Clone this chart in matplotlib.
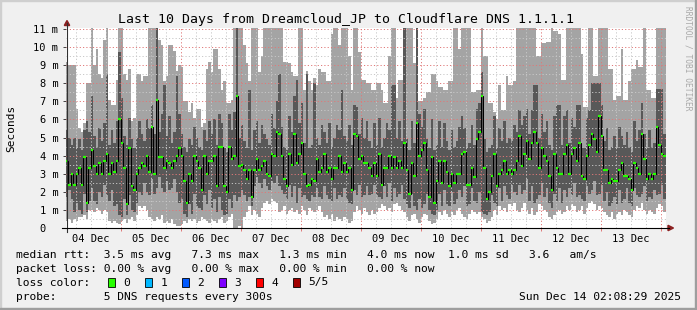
import numpy as np
import matplotlib.pyplot as plt
from matplotlib.lines import Line2D
from matplotlib.patches import Rectangle, Polygon

W, H = 697, 310
MONO = 'DejaVu Sans Mono'
plt.rcParams['font.family'] = [MONO, 'DejaVu Sans']

# one column per hour, hour 0 = 04 Dec 00:00; window is 04 Dec 02:08 .. 14 Dec 02:08
first_hour = 2
t_start, t_end = 2.14, 242.14
day_labels = ['04 Dec', '05 Dec', '06 Dec', '07 Dec', '08 Dec',
              '09 Dec', '10 Dec', '11 Dec', '12 Dec', '13 Dec']

# median rtt per hour (ms)
median = [
    3.7, 2.4, 3.0, 2.4, 3.0, 3.3, 2.4, 3.9, 1.4, 3.3,
    4.3, 3.4, 3.0, 3.6, 3.0, 3.7, 4.1, 3.0, 3.6, 3.1,
    3.7, 6.0, 4.7, 3.3, 1.3, 4.4, 2.3, 2.1, 3.0, 3.3,
    3.6, 3.4, 4.0, 3.1, 5.6, 3.0, 7.1, 3.9, 3.9, 3.3,
    3.7, 3.6, 3.3, 3.7, 4.0, 4.4, 4.0, 2.6, 1.4, 3.0,
    2.6, 4.0, 3.7, 3.3, 2.1, 4.0, 3.0, 3.7, 3.7, 4.0,
    2.3, 4.5, 4.5, 2.3, 2.0, 4.5, 3.8, 4.0, 7.3, 3.4,
    3.5, 3.2, 2.7, 3.2, 1.7, 3.2, 3.8, 3.2, 3.4, 3.7,
    3.0, 2.9, 4.1, 4.0, 5.3, 5.2, 4.0, 2.7, 2.3, 4.1,
    3.5, 5.2, 3.6, 4.1, 4.7, 3.0, 2.3, 2.4, 2.7, 2.6,
    3.8, 3.1, 3.3, 4.1, 3.1, 3.3, 2.7, 3.3, 3.3, 4.0,
    3.1, 3.6, 3.1, 3.3, 2.1, 5.2, 5.1, 3.8, 4.0, 3.6,
    3.6, 3.3, 2.9, 3.6, 2.9, 4.1, 2.4, 3.3, 3.3, 4.0,
    3.3, 3.9, 3.3, 3.7, 3.3, 4.7, 3.2, 1.9, 3.6, 2.9,
    5.8, 4.0, 4.3, 4.7, 3.2, 1.7, 3.9, 1.4, 2.6, 3.7,
    2.5, 3.7, 3.1, 2.3, 3.0, 2.5, 3.0, 3.0, 4.1, 4.2,
    2.4, 2.4, 3.3, 2.8, 4.9, 5.3, 7.3, 3.3, 1.6, 2.0,
    2.9, 4.1, 2.3, 3.0, 3.2, 3.7, 3.0, 3.2, 3.0, 3.2,
    3.7, 5.1, 3.4, 4.1, 4.8, 3.8, 4.7, 5.3, 4.7, 3.3,
    4.4, 4.0, 3.7, 2.9, 2.1, 4.1, 3.3, 3.0, 3.0, 4.1,
    4.6, 3.0, 4.1, 4.4, 3.7, 4.7, 2.9, 2.7, 4.0, 4.6,
    5.2, 4.9, 4.2, 6.2, 5.1, 3.2, 3.2, 2.5, 2.7, 2.6,
    2.6, 3.2, 3.6, 2.9, 2.9, 2.7, 2.1, 3.6, 3.3, 3.0,
    5.2, 3.8, 2.7, 3.0, 2.7, 3.0, 5.6, 4.6, 4.1, 4.0,
]

# fastest ping per hour (bottom of the light smoke)
lo = [
    0.4, 0.5, 0.3, 0.5, 0.4, 0.6, 0.6, 0.7, 0.5, 1.0,
    1.0, 0.9, 1.1, 1.0, 0.8, 1.0, 0.9, 0.4, 0.3, 0.4,
    0.3, 0.2, 0.4, 0.5, 0.3, 0.5, 0.6, 0.4, 0.7, 1.2,
    1.1, 1.2, 1.0, 0.6, 0.5, 0.4, 0.6, 0.5, 0.7, 0.3,
    0.4, 0.3, 0.5, 0.2, 0.1, 0.1, 0.2, 0.4, 0.3, 0.5,
    0.4, 0.5, 0.3, 0.4, 0.6, 0.5, 0.4, 0.3, 0.5, 0.4,
    0.3, 0.5, 0.6, 0.3, 0.4, 0.6, 0.8, 0.0, 0.0, 0.1,
    0.0, 0.6, 0.9, 1.2, 0.7, 1.0, 0.8, 0.6, 1.1, 1.4,
    1.5, 1.3, 1.6, 1.5, 1.4, 0.9, 1.0, 1.2, 0.8, 1.0,
    1.1, 0.9, 1.0, 0.8, 1.2, 1.0, 0.7, 1.1, 1.0, 0.9,
    1.0, 1.2, 0.9, 0.6, 0.7, 0.5, 0.8, 0.4, 0.6, 0.5,
    0.4, 0.6, 0.5, 0.3, 0.4, 0.9, 1.2, 1.0, 0.8, 1.1,
    0.9, 0.7, 1.0, 0.8, 0.9, 1.1, 1.3, 1.2, 1.0, 1.1,
    0.9, 1.3, 1.4, 1.2, 1.0, 0.9, 0.6, 0.4, 0.7, 0.8,
    0.5, 0.3, 0.6, 0.8, 0.7, 0.4, 0.2, 0.3, 0.5, 0.9,
    0.7, 1.0, 0.8, 0.6, 0.9, 0.7, 1.0, 1.1, 0.8, 0.6,
    0.5, 0.8, 1.0, 0.9, 0.8, 0.9, 0.6, 0.5, 0.3, 0.4,
    0.6, 1.0, 0.7, 1.2, 1.0, 1.1, 0.9, 1.3, 1.2, 1.4,
    1.0, 0.9, 1.1, 1.4, 1.0, 0.8, 1.1, 0.7, 0.9, 1.3,
    1.2, 1.0, 0.9, 0.6, 0.5, 0.7, 0.9, 1.0, 0.8, 0.9,
    1.2, 1.0, 1.3, 1.2, 0.9, 1.0, 1.2, 0.8, 1.1, 1.4,
    1.5, 1.3, 1.0, 1.2, 1.1, 0.9, 0.7, 0.6, 0.9, 0.5,
    0.8, 0.9, 0.7, 1.0, 0.9, 0.7, 0.6, 1.0, 1.2, 1.1,
    1.4, 1.0, 0.8, 1.0, 0.9, 0.8, 1.1, 1.3, 1.2, 0.9,
]

# 2nd fastest ping (bottom of the dark smoke)
q1 = [
    1.7, 2.1, 1.6, 0.9, 1.4, 1.0, 0.8, 1.9, 0.9, 1.5,
    2.2, 1.5, 1.3, 2.0, 1.7, 2.4, 1.8, 1.5, 2.1, 1.2,
    1.3, 0.7, 0.6, 1.6, 0.7, 1.8, 1.0, 0.9, 1.4, 2.0,
    1.8, 2.5, 2.0, 1.8, 2.7, 1.9, 2.2, 2.8, 2.2, 2.0,
    2.6, 2.1, 2.2, 2.7, 2.0, 1.4, 1.6, 0.8, 0.6, 1.3,
    0.8, 1.9, 1.2, 1.1, 1.0, 1.8, 1.3, 2.1, 1.1, 1.6,
    0.9, 1.7, 1.0, 0.7, 0.8, 1.6, 1.1, 1.8, 1.5, 1.7,
    2.1, 1.8, 1.5, 1.7, 1.2, 2.3, 2.8, 2.5, 2.2, 2.7,
    2.3, 2.1, 2.6, 2.5, 2.9, 2.3, 2.1, 1.9, 1.6, 2.4,
    1.7, 2.3, 1.4, 2.2, 1.7, 1.8, 1.6, 1.5, 1.8, 1.7,
    2.2, 1.7, 1.6, 2.3, 1.8, 1.6, 1.5, 2.2, 1.6, 1.8,
    1.7, 2.2, 1.6, 1.4, 1.3, 2.1, 1.8, 2.4, 1.7, 1.8,
    2.3, 1.8, 1.9, 2.4, 1.8, 1.7, 1.6, 2.3, 1.7, 2.5,
    1.5, 2.2, 1.7, 1.9, 2.4, 1.6, 1.3, 1.1, 1.9, 1.2,
    1.0, 1.6, 1.1, 1.3, 1.9, 1.0, 0.8, 0.7, 1.0, 1.9,
    1.2, 2.1, 1.3, 1.2, 2.0, 1.3, 1.6, 2.1, 1.7, 2.3,
    1.2, 1.3, 2.2, 1.5, 1.4, 2.0, 0.9, 0.8, 0.7, 0.9,
    1.8, 1.4, 1.2, 2.2, 1.5, 2.3, 1.8, 1.6, 2.4, 2.0,
    1.8, 2.4, 1.9, 2.1, 2.7, 1.5, 2.3, 1.4, 1.6, 1.8,
    2.5, 1.7, 2.2, 1.4, 1.1, 1.9, 1.5, 2.2, 1.4, 2.1,
    1.7, 2.2, 1.8, 2.5, 1.7, 1.8, 1.6, 1.5, 2.3, 1.9,
    2.1, 2.6, 1.8, 1.9, 2.4, 1.5, 2.0, 1.2, 1.4, 1.7,
    1.3, 2.1, 1.4, 1.6, 2.2, 1.4, 1.2, 2.2, 1.8, 1.7,
    1.9, 2.3, 1.5, 1.7, 1.6, 2.1, 1.8, 1.9, 2.4, 1.6,
]

# 4th ping (top of the dark smoke)
q3 = [
    5.4, 5.0, 4.6, 5.0, 4.4, 4.9, 4.3, 5.4, 5.9, 5.3,
    7.3, 5.1, 4.5, 5.5, 4.8, 5.8, 8.5, 4.6, 5.4, 4.7,
    5.9, 9.7, 7.2, 5.1, 4.6, 6.1, 4.9, 4.4, 5.0, 5.9,
    5.2, 4.8, 6.0, 5.5, 6.8, 5.2, 11.5, 5.3, 6.3, 7.9,
    5.1, 6.2, 4.7, 5.3, 8.4, 6.3, 5.2, 4.5, 4.2, 4.9,
    4.6, 5.6, 5.0, 4.5, 4.3, 5.4, 4.8, 5.9, 5.2, 6.0,
    4.6, 6.3, 5.8, 4.4, 4.2, 6.3, 5.4, 6.4, 11.5, 5.0,
    5.7, 4.8, 4.4, 7.6, 4.3, 5.4, 5.9, 4.7, 5.7, 5.2,
    4.9, 4.6, 6.3, 5.5, 7.0, 8.5, 5.6, 4.5, 4.3, 6.2,
    5.3, 7.3, 8.2, 5.8, 6.9, 4.7, 8.5, 4.4, 4.6, 8.0,
    5.0, 4.6, 5.7, 5.3, 4.7, 5.8, 4.5, 5.0, 5.7, 5.4,
    7.6, 5.1, 4.8, 5.7, 4.6, 6.8, 6.7, 5.2, 6.1, 5.0,
    5.9, 4.8, 4.4, 5.8, 4.6, 6.1, 4.5, 5.0, 5.8, 5.4,
    7.9, 7.9, 5.0, 5.9, 4.8, 11.5, 4.9, 4.3, 5.9, 4.7,
    11.5, 6.3, 5.6, 6.6, 4.9, 4.4, 6.0, 4.3, 4.6, 5.9,
    4.5, 5.8, 4.8, 4.3, 5.4, 4.5, 4.8, 5.6, 6.2, 5.5,
    4.4, 4.7, 5.7, 4.6, 6.6, 6.9, 8.6, 4.9, 4.2, 4.4,
    4.6, 6.2, 4.4, 5.5, 4.8, 5.9, 4.7, 5.0, 4.8, 5.7,
    5.3, 6.5, 5.7, 6.2, 6.6, 5.2, 6.5, 7.9, 7.9, 5.0,
    6.3, 5.3, 5.9, 4.6, 4.3, 6.2, 6.8, 6.8, 4.6, 6.2,
    6.5, 4.7, 6.1, 5.6, 6.8, 6.8, 4.5, 4.4, 6.1, 6.5,
    8.0, 8.0, 8.0, 8.0, 6.8, 4.8, 5.5, 4.3, 4.5, 5.1,
    4.4, 5.6, 5.1, 4.6, 5.3, 4.5, 4.2, 5.9, 4.8, 5.4,
    6.9, 5.2, 4.4, 5.4, 4.5, 4.7, 7.7, 7.7, 7.7, 5.2,
]

# slowest ping (top of the light smoke, often past the top of the graph)
hi = [
    9.2, 9.0, 9.0, 9.0, 6.6, 5.5, 5.3, 5.8, 8.0, 8.0,
    11.5, 9.0, 9.9, 8.5, 8.3, 10.4, 11.5, 7.1, 6.8, 6.8,
    8.2, 11.5, 11.5, 8.5, 8.2, 8.8, 5.9, 6.1, 8.5, 8.5,
    8.1, 8.4, 8.4, 11.5, 11.5, 11.5, 11.5, 10.4, 10.1, 8.1,
    8.4, 10.1, 10.1, 9.8, 8.7, 9.0, 8.9, 7.0, 7.0, 6.4,
    6.9, 6.1, 6.6, 6.6, 5.6, 5.8, 8.8, 9.2, 8.6, 9.9,
    9.9, 8.8, 7.6, 8.1, 6.9, 6.9, 7.1, 11.5, 11.5, 11.5,
    11.5, 10.1, 9.1, 8.1, 11.5, 11.5, 11.5, 8.6, 9.5, 11.5,
    11.5, 11.5, 11.5, 11.5, 11.5, 11.5, 11.5, 9.2, 9.2, 9.1,
    8.6, 8.4, 8.4, 11.5, 11.5, 7.6, 8.7, 8.1, 7.6, 8.3,
    7.9, 8.8, 8.6, 8.6, 8.1, 8.1, 10.7, 11.5, 11.5, 10.1,
    11.5, 11.5, 11.5, 9.5, 7.6, 11.5, 11.5, 9.7, 8.2, 8.2,
    8.0, 8.0, 7.6, 7.6, 8.0, 8.0, 7.6, 6.9, 6.9, 9.5,
    11.5, 11.5, 7.2, 8.2, 8.2, 11.5, 11.5, 11.5, 11.5, 9.1,
    11.5, 7.0, 7.0, 7.2, 7.5, 7.5, 8.5, 8.5, 8.1, 7.8,
    7.8, 7.6, 7.6, 8.1, 8.1, 11.5, 11.5, 9.9, 11.5, 11.5,
    11.5, 11.5, 7.5, 7.5, 7.6, 7.6, 11.5, 9.5, 9.5, 6.9,
    6.9, 6.4, 6.0, 7.9, 6.5, 6.5, 8.4, 7.9, 7.9, 8.1,
    11.5, 11.5, 11.5, 11.5, 11.5, 11.5, 11.5, 11.5, 9.5, 9.5,
    10.2, 10.2, 10.3, 10.3, 11.5, 10.9, 10.9, 10.7, 8.2, 8.2,
    11.5, 11.5, 11.5, 11.5, 11.5, 11.5, 9.6, 6.7, 6.7, 11.5,
    11.5, 8.4, 8.4, 11.5, 11.5, 11.5, 11.5, 8.8, 8.8, 7.1,
    7.3, 7.3, 9.9, 7.1, 7.1, 8.1, 8.8, 8.8, 9.3, 8.9,
    8.9, 11.5, 7.6, 7.6, 7.2, 7.2, 11.5, 11.5, 11.5, 11.5,
]

loss_labels = ['0', '1', '2', '3', '4', '5/5']
loss_colors = ['#26ff00', '#00b8ff', '#0059ff', '#7e00ff', '#ff0000', '#a10000']

title = 'Last 10 Days from Dreamcloud_JP to Cloudflare DNS 1.1.1.1'
rtt_line = 'median rtt:  3.5 ms avg   7.3 ms max   1.3 ms min   4.0 ms now  1.0 ms sd   3.6   am/s'
loss_line = 'packet loss: 0.00 % avg   0.00 % max   0.00 % min   0.00 % now'
probe_line = 'probe:       5 DNS requests every 300s'
stamp = 'Sun Dec 14 02:08:29 2025'


def fx(px):
    return px / W


def fy(py):
    return 1 - py / H


fig = plt.figure(figsize=(W / 100, H / 100), dpi=100, facecolor='#f0f0f0')
ax = fig.add_axes([fx(66), fy(228), 600 / W, 200.3 / H])
ax.set_facecolor('white')
ax.set_xlim(t_start, t_end)
ax.set_ylim(0, 11.07)

edges = np.arange(first_hour, first_hour + len(median) + 1)
ax.stairs(hi, edges, baseline=lo, fill=True, color='#a4a4a4', lw=0, zorder=1)
ax.stairs(q3, edges, baseline=q1, fill=True, color='#585858', lw=0, zorder=2)

# grid sits on top of the smoke, like rrdtool draws it
dots = (0, (1.2, 2.2))
for v in np.arange(0.5, 11.01, 0.5):
    major = abs(v - round(v)) < 1e-6
    ax.axhline(v, color='#e07878' if major else '#c8c8c8', lw=0.7, ls=dots, zorder=3)
for h in range(6, 243, 6):
    if t_start < h < t_end:
        ax.axvline(h, color='#e07878' if h % 24 == 0 else '#c8c8c8', lw=0.7, ls=dots, zorder=3)

# median: black steps, green marks
ax.stairs(median, edges, baseline=None, color='black', lw=0.75, zorder=4)
ax.hlines(median, edges[:-1], edges[1:], color='#26ff00', lw=1.6, zorder=5)

for s in ax.spines.values():
    s.set_visible(False)

ax.set_yticks(range(12))
ax.set_yticklabels(['0  '] + [f'{i} m' for i in range(1, 12)])
ax.tick_params(axis='y', length=2.5, width=0.7, color='#404040', pad=3, labelsize=7.5)

ax.set_xticks(range(24, 241, 24))
ax.set_xticklabels([])
ax.tick_params(axis='x', which='major', length=2.5, width=0.7, color='#e07878')
ax.set_xticks([12 + 24 * i for i in range(len(day_labels))], minor=True)
ax.set_xticklabels(day_labels, minor=True)
ax.tick_params(axis='x', which='minor', length=0, pad=4, labelsize=7.5)

# axes with arrow heads
fig.add_artist(Line2D([fx(67), fx(67)], [fy(232), fy(23)], color='#303030', lw=0.8))
fig.add_artist(Line2D([fx(62), fx(669)], [fy(228), fy(228)], color='black', lw=0.8))
fig.add_artist(Polygon([(fx(64.3), fy(25.5)), (fx(69.7), fy(25.5)), (fx(67), fy(20.5))],
                       closed=True, color='#8b2020', transform=fig.transFigure))
fig.add_artist(Polygon([(fx(668), fy(225.3)), (fx(668), fy(230.7)), (fx(673.5), fy(228))],
                       closed=True, color='#8b2020', transform=fig.transFigure))

# frame shading
fig.add_artist(Rectangle((0, fy(1)), 1, 1 / H, color='#cfcfcf', transform=fig.transFigure))
fig.add_artist(Rectangle((0, 0), 1 / W, 1, color='#cfcfcf', transform=fig.transFigure))
fig.add_artist(Rectangle((fx(695), 0), 2 / W, 1, color='#9e9e9e', transform=fig.transFigure))
fig.add_artist(Rectangle((0, 0), 1, 2.5 / H, color='#9e9e9e', transform=fig.transFigure))

fig.text(fx(346.5), fy(19), title, ha='center', va='center', fontsize=9.5)
fig.text(fx(11), fy(128), 'Seconds', rotation=90, ha='center', va='center', fontsize=8)
fig.text(fx(688), fy(58), 'RRDTOOL / TOBI OETIKER', rotation=270, ha='center', va='center',
         fontsize=5.7, color='#a8a8a8')

fig.text(fx(16), fy(254.5), rtt_line, va='center', fontsize=8.1)
fig.text(fx(16), fy(268.5), loss_line, va='center', fontsize=8.1)
fig.text(fx(16), fy(282.5), 'loss color:', va='center', fontsize=8.1)
fig.text(fx(16), fy(296.5), probe_line, va='center', fontsize=8.1)
fig.text(fx(681), fy(296.5), stamp, ha='right', va='center', fontsize=8.1)

for i, (lab, col) in enumerate(zip(loss_labels, loss_colors)):
    x0 = 108.3 + 37 * i
    fig.add_artist(Rectangle((fx(x0), fy(286.8)), 6.8 / W, 9 / H, facecolor=col,
                             edgecolor='black', lw=0.6, transform=fig.transFigure))
    fig.text(fx(x0 + 15), fy(282.5), lab, va='center', fontsize=8.1)

fig.savefig('out.png', dpi=100, facecolor=fig.get_facecolor())
